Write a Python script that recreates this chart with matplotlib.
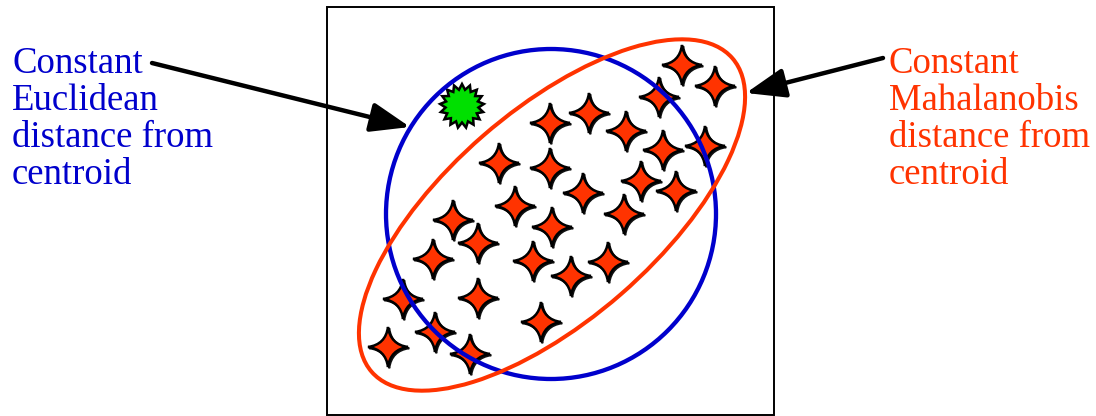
import numpy as np
import matplotlib
matplotlib.use("Agg")
import matplotlib.pyplot as plt
from matplotlib.path import Path
from matplotlib.patches import PathPatch, Circle, Ellipse, Rectangle, Polygon

# ---- data (pixel-space positions) ----
star_x = [682, 715, 659, 550, 589, 626, 663, 705, 499, 550, 583, 641, 676, 515,
          624, 453, 478, 552, 433, 533, 571, 608, 403, 478, 541, 388, 435, 470]
star_y = [65, 86, 97, 123, 113, 131, 150, 146, 163, 168, 193, 181, 191, 206,
          214, 220, 243, 227, 259, 261, 276, 262, 299, 298, 322, 347, 332, 354]
outlier_xy = (462, 106)
euclid_center = (551, 214)
euclid_radius = 165
maha_center = (552, 215)
maha_axes = (478, 210)   # full width, height
maha_angle = 41
left_label = ["Constant", "Euclidean", "distance from", "centroid"]
right_label = ["Constant", "Mahalanobis", "distance from", "centroid"]

BLUE = "#0000CC"
RED = "#FF3300"
GREEN = "#00E000"

fig = plt.figure(figsize=(10.96, 4.16), dpi=100)
ax = fig.add_axes([0, 0, 1, 1])
ax.set_xlim(0, 1096)
ax.set_ylim(416, 0)
ax.axis("off")

# frame box
ax.add_patch(Rectangle((327, 7), 447, 408, fill=False, ec="black", lw=1.4, zorder=1))

def star_path(cx, cy, r, ctrl=0.12):
    verts, codes = [], []
    tips = [(0, -1), (1, 0), (0, 1), (-1, 0)]
    ctrls = [(ctrl, -ctrl), (ctrl, ctrl), (-ctrl, ctrl), (-ctrl, -ctrl)]
    verts.append((cx + tips[0][0] * r, cy + tips[0][1] * r)); codes.append(Path.MOVETO)
    for i in range(4):
        c = ctrls[i]
        t = tips[(i + 1) % 4]
        verts.append((cx + c[0] * r, cy + c[1] * r)); codes.append(Path.CURVE3)
        verts.append((cx + t[0] * r, cy + t[1] * r)); codes.append(Path.CURVE3)
    verts.append(verts[0]); codes.append(Path.CLOSEPOLY)
    return Path(verts, codes)

for x, y in zip(star_x, star_y):
    ax.add_patch(PathPatch(star_path(x + 1.3, y + 1.3, 20), fc="#555555", ec="#111111",
                           lw=1.4, zorder=3))
    ax.add_patch(PathPatch(star_path(x, y, 20), fc=RED, ec="black", lw=1.8, zorder=4))

# green starburst outlier
n = 17
ang = np.linspace(0, 2 * np.pi, 2 * n, endpoint=False) - np.pi / 2
rad = np.where(np.arange(2 * n) % 2 == 0, 22, 16.5)
pts = np.column_stack([outlier_xy[0] + rad * np.cos(ang), outlier_xy[1] + rad * np.sin(ang)])
ax.add_patch(Polygon(pts, closed=True, fc=GREEN, ec="black", lw=1.8, zorder=4))

# Euclidean circle and Mahalanobis ellipse
ax.add_patch(Circle(euclid_center, euclid_radius, fill=False, ec=BLUE, lw=3.1, zorder=5))
ax.add_patch(Ellipse(maha_center, maha_axes[0], maha_axes[1], angle=-maha_angle,
                     fill=False, ec=RED, lw=2.9, zorder=5))

# arrows
arrow_kw = dict(arrowstyle="-|>,head_length=1.2,head_width=0.45", color="black",
                lw=3.2, shrinkA=0, shrinkB=0, mutation_scale=20)
ax.annotate("", xy=(410, 127), xytext=(152, 63), arrowprops=arrow_kw, zorder=6)
ax.annotate("", xy=(746, 93), xytext=(883, 58), arrowprops=arrow_kw, zorder=6)

# labels
baselines = [72.7, 110, 147.3, 184]
for txt, yb in zip(left_label, baselines):
    ax.text(12, yb, txt, color=BLUE, fontsize=26.5, family="Liberation Serif",
            va="baseline", ha="left")
for txt, yb in zip(right_label, baselines):
    ax.text(889, yb, txt, color=RED, fontsize=26.5, family="Liberation Serif",
            va="baseline", ha="left")

fig.savefig("out.png", dpi=100)
